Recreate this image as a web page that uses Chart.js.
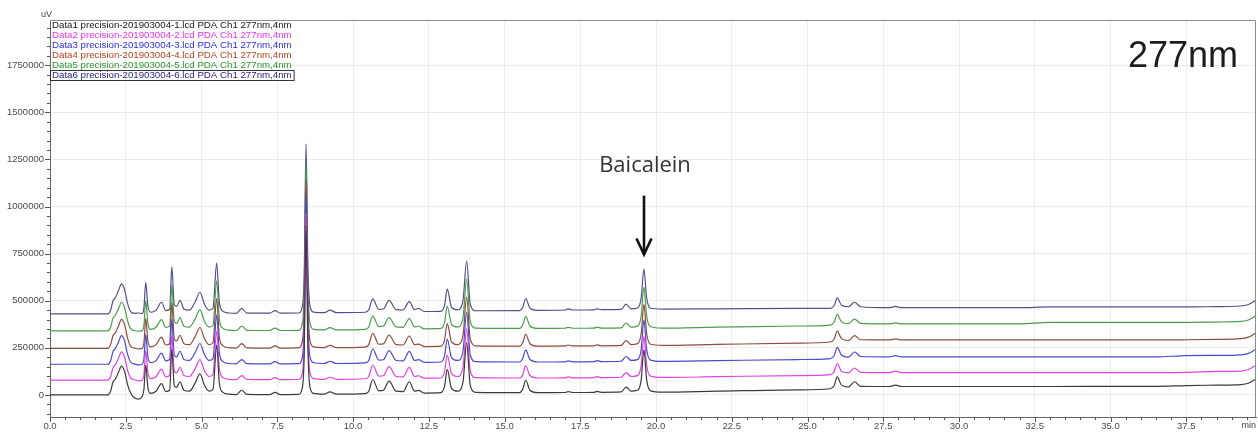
<!DOCTYPE html>
<html>
<head>
<meta charset="utf-8">
<script src="https://cdn.jsdelivr.net/npm/chart.js@4.4.1/dist/chart.umd.min.js"></script>
<style>
  html, body { margin: 0; padding: 0; background: #ffffff; }
  #wrap { width: 1258px; height: 437px; position: relative; }
</style>
</head>
<body>
<div id="wrap"><canvas id="chrom" width="1258" height="437"></canvas></div>
<script>
// Retention time (min) of every sampled point, shared by all six runs
const retentionTime = [
  0, 1.90, 2.00, 2.08, 2.16, 2.26, 2.36, 2.46, 2.56, 2.66,
  2.78, 2.92, 3.04, 3.10, 3.16, 3.23, 3.32, 3.50, 3.68, 3.82,
  3.95, 4.02, 4.10, 4.18, 4.29, 4.42, 4.60, 4.78, 4.95, 5.10,
  5.25, 5.38, 5.50, 5.59, 5.70, 5.90, 6.15, 6.33, 6.50, 7.25,
  7.43, 7.60, 8.20, 8.33, 8.39, 8.45, 8.51, 8.58, 8.70, 9.05,
  9.24, 9.45, 10.40, 10.52, 10.65, 10.85, 11.00, 11.19, 11.42, 11.65,
  11.86, 12.03, 12.16, 12.35, 12.90, 13.02, 13.11, 13.25, 13.45, 13.63,
  13.75, 13.87, 14.05, 15.50, 15.60, 15.70, 15.84, 16.10, 17.00, 17.10,
  17.25, 17.95, 18.05, 18.20, 18.85, 19.01, 19.18, 19.40, 19.51, 19.60,
  19.69, 19.82, 20.20, 22.00, 24.70, 25.75, 25.88, 25.98, 26.12, 26.35,
  26.55, 26.75, 27.70, 27.90, 28.10, 30.00, 32.00, 33.00, 36.50, 37.50,
  38.50, 39.30, 39.55, 39.80
];

// Detector signal (uV) of each replicate injection
const data1 = [
  0, 0, 20000, 70000, 85000, 120000, 153000, 125000, 55000, 10000,
  -15000, -22000, -8000, 30000, 160000, 40000, 8000, 20000, 60000, 18000,
  25000, 245000, 50000, 40000, 70000, 25000, 20000, 60000, 112000, 50000,
  20000, 30000, 265000, 60000, 15000, 4000, 2000, 25000, 3000, 2000,
  14000, 2000, 3000, 40000, 220000, 900000, 260000, 40000, 8000, 4000,
  16000, 4000, 7000, 20000, 82000, 22000, 24000, 73000, 20000, 18000,
  70000, 20000, 24000, 10000, 12000, 45000, 136000, 35000, 20000, 70000,
  278000, 50000, 14000, 12000, 30000, 78000, 25000, 12000, 13000, 18000,
  13000, 14000, 19000, 14000, 16000, 42000, 20000, 26000, 80000, 240000,
  80000, 22000, 15000, 20000, 27000, 33000, 50000, 96000, 52000, 42000,
  70000, 46000, 45000, 52000, 45000, 45000, 45000, 45000, 46000, 50000,
  52000, 55000, 62000, 85000
];
const data2 = [
  0, 0, 18000, 66000, 82000, 116000, 150000, 122000, 52000, 12000,
  2000, -4000, 0, 28000, 155000, 38000, 8000, 18000, 58000, 17000,
  24000, 238000, 48000, 38000, 68000, 24000, 19000, 58000, 108000, 48000,
  19000, 29000, 258000, 58000, 14000, 4000, 2000, 24000, 3000, 2000,
  13000, 2000, 3000, 38000, 210000, 885000, 250000, 38000, 8000, 4000,
  15000, 4000, 7000, 19000, 80000, 21000, 23000, 71000, 19000, 17000,
  67000, 19000, 23000, 10000, 11000, 43000, 132000, 34000, 19000, 68000,
  272000, 48000, 13000, 11000, 29000, 75000, 24000, 11000, 12000, 17000,
  12000, 13000, 18000, 13000, 15000, 40000, 19000, 25000, 78000, 232000,
  78000, 21000, 14000, 18000, 24000, 29000, 45000, 88000, 47000, 38000,
  64000, 41000, 40000, 47000, 40000, 40000, 40000, 40000, 40000, 41000,
  46000, 48000, 56000, 78000
];
const data3 = [
  0, 0, 19000, 68000, 84000, 118000, 152000, 124000, 54000, 12000,
  2000, -3000, 0, 29000, 158000, 39000, 8000, 19000, 59000, 18000,
  25000, 242000, 49000, 39000, 69000, 25000, 20000, 59000, 110000, 49000,
  20000, 30000, 262000, 59000, 15000, 4000, 2000, 25000, 3000, 2000,
  14000, 2000, 3000, 39000, 215000, 895000, 255000, 39000, 8000, 4000,
  16000, 4000, 7000, 20000, 81000, 22000, 24000, 72000, 20000, 18000,
  68000, 20000, 24000, 10000, 12000, 44000, 134000, 35000, 20000, 69000,
  275000, 49000, 14000, 12000, 30000, 76000, 25000, 12000, 13000, 18000,
  13000, 14000, 19000, 14000, 16000, 41000, 20000, 26000, 79000, 236000,
  79000, 22000, 15000, 19000, 25000, 30000, 46000, 90000, 48000, 38000,
  65000, 41000, 39000, 46000, 39000, 39000, 39000, 39000, 39000, 46000,
  47000, 50000, 58000, 80000
];
const data4 = [
  0, 0, 20000, 69000, 84000, 119000, 154000, 126000, 55000, 12000,
  2000, -3000, 0, 30000, 159000, 40000, 8000, 20000, 60000, 18000,
  25000, 244000, 50000, 40000, 70000, 25000, 20000, 60000, 111000, 50000,
  20000, 30000, 264000, 60000, 15000, 4000, 2000, 25000, 3000, 2000,
  14000, 2000, 3000, 40000, 218000, 898000, 258000, 40000, 8000, 4000,
  16000, 4000, 7000, 20000, 80000, 22000, 24000, 71000, 20000, 18000,
  66000, 20000, 23000, 10000, 12000, 44000, 132000, 35000, 20000, 69000,
  272000, 49000, 14000, 12000, 30000, 75000, 25000, 12000, 13000, 18000,
  13000, 14000, 19000, 14000, 16000, 41000, 20000, 26000, 79000, 234000,
  79000, 22000, 16000, 21000, 28000, 34000, 50000, 92000, 52000, 42000,
  68000, 46000, 45000, 51000, 45000, 45000, 45000, 45000, 45000, 46000,
  48000, 52000, 60000, 82000
];
const data5 = [
  0, 0, 19000, 68000, 83000, 118000, 152000, 125000, 54000, 12000,
  2000, -2000, 0, 30000, 160000, 40000, 8000, 19000, 60000, 18000,
  25000, 246000, 50000, 40000, 70000, 25000, 20000, 60000, 112000, 50000,
  20000, 30000, 266000, 60000, 15000, 4000, 2000, 26000, 3000, 2000,
  15000, 2000, 3000, 41000, 220000, 900000, 260000, 41000, 8000, 5000,
  17000, 5000, 8000, 21000, 80000, 23000, 25000, 70000, 21000, 19000,
  65000, 21000, 26000, 11000, 13000, 44000, 130000, 35000, 21000, 70000,
  275000, 49000, 15000, 13000, 31000, 76000, 26000, 13000, 14000, 19000,
  14000, 15000, 20000, 15000, 16000, 42000, 20000, 26000, 80000, 232000,
  80000, 22000, 15000, 20000, 26000, 31000, 47000, 88000, 48000, 38000,
  62000, 40000, 37000, 43000, 37000, 37000, 37000, 45000, 45000, 45000,
  47000, 50000, 58000, 80000
];
const data6 = [
  0, 0, 20000, 70000, 87000, 124000, 160000, 130000, 56000, 12000,
  3000, 5000, 2000, 32000, 168000, 42000, 9000, 20000, 62000, 18000,
  25000, 250000, 50000, 40000, 72000, 26000, 20000, 61000, 115000, 50000,
  20000, 30000, 270000, 61000, 15000, 5000, 3000, 30000, 4000, 4000,
  18000, 4000, 5000, 42000, 222000, 903000, 262000, 42000, 10000, 7000,
  20000, 7000, 9000, 22000, 80000, 24000, 26000, 72000, 23000, 21000,
  65000, 23000, 30000, 13000, 14000, 45000, 132000, 36000, 22000, 72000,
  280000, 50000, 17000, 18000, 34000, 82000, 30000, 19000, 21000, 27000,
  21000, 22000, 27000, 23000, 24000, 52000, 27000, 33000, 85000, 238000,
  85000, 30000, 26000, 27000, 29000, 30000, 45000, 85000, 46000, 38000,
  62000, 38000, 33000, 40000, 33000, 33000, 33000, 37000, 37000, 37000,
  39000, 42000, 50000, 72000
];

// Vertical shift applied to each run in the overlay view (uV)
const overlayOffset = [0, 79000, 163000, 247000, 340000, 430000];

const runNames = [
  'Data1 precision-201903004-1.lcd PDA Ch1 277nm,4nm',
  'Data2 precision-201903004-2.lcd PDA Ch1 277nm,4nm',
  'Data3 precision-201903004-3.lcd PDA Ch1 277nm,4nm',
  'Data4 precision-201903004-4.lcd PDA Ch1 277nm,4nm',
  'Data5 precision-201903004-5.lcd PDA Ch1 277nm,4nm',
  'Data6 precision-201903004-6.lcd PDA Ch1 277nm,4nm'
];
const runSignals = [data1, data2, data3, data4, data5, data6];
const traceColors = ['#3a3a3a', '#e044e0', '#4a4ad0', '#8e4c3c', '#4c9c4c', '#50508c'];
const legendColors = ['#151515', '#ee33ee', '#2e2ed8', '#b4441c', '#2c962c', '#26268a'];

// Axis settings
const timeMax = 39.8;
const timeMinorStep = 0.5;
const timeMajorStep = 2.5;
const signalMin = -117000;
const signalMax = 1990000;
const signalMinorStep = 50000;
const signalMajorStep = 250000;
const signalTickFirst = -100000;
const signalTickLast = 1950000;

const peakLabel = { text: 'Baicalein', time: 19.6, textValue: 1182000, arrowTop: 1058000, arrowTip: 740000 };
const wavelengthLabel = '277nm';

const isMajor = (v, step) => Math.abs(v / step - Math.round(v / step)) < 1e-6;
const axisFont = { family: '"Liberation Sans", Arial, sans-serif', size: 9.5 };

const datasets = runSignals.map((sig, i) => ({
  label: runNames[i],
  data: retentionTime.map((t, j) => ({ x: t, y: sig[j] + overlayOffset[i] })),
  borderColor: traceColors[i],
  borderWidth: 1.2,
  pointRadius: 0,
  fill: false,
  cubicInterpolationMode: 'monotone'
}));

// Frame, minor/major tick marks, legend and text labels
const chromDecor = {
  id: 'chromDecor',
  afterDraw(chart) {
    const { ctx, chartArea: a, scales: { x, y } } = chart;
    ctx.save();

    // plot frame (top and right edges)
    ctx.strokeStyle = '#8c8c8c';
    ctx.lineWidth = 1;
    ctx.beginPath();
    ctx.moveTo(a.left, a.top + 0.5);
    ctx.lineTo(a.right - 0.5, a.top + 0.5);
    ctx.lineTo(a.right - 0.5, a.bottom);
    ctx.stroke();

    // tick marks
    ctx.strokeStyle = '#555';
    ctx.beginPath();
    x.ticks.forEach(t => {
      const px = Math.round(x.getPixelForValue(t.value)) + 0.5;
      const len = isMajor(t.value, timeMajorStep) ? 5 : 3;
      ctx.moveTo(px, a.bottom);
      ctx.lineTo(px, a.bottom + len);
    });
    y.ticks.forEach(t => {
      const py = Math.round(y.getPixelForValue(t.value)) + 0.5;
      const len = isMajor(t.value, signalMajorStep) ? 5 : 3;
      ctx.moveTo(a.left - len, py);
      ctx.lineTo(a.left, py);
    });
    ctx.stroke();

    // axis units
    ctx.fillStyle = '#444';
    ctx.font = '9px "Liberation Sans", Arial, sans-serif';
    ctx.textBaseline = 'middle';
    ctx.textAlign = 'left';
    ctx.fillText('uV', a.left - 9, a.top - 5);
    ctx.textAlign = 'right';
    ctx.fillText('min', a.right, a.bottom + 9);

    // legend of the overlaid runs
    ctx.font = '9.7px "Liberation Sans", Arial, sans-serif';
    ctx.textAlign = 'left';
    runNames.forEach((name, i) => {
      ctx.fillStyle = legendColors[i];
      ctx.fillText(name, a.left + 2, a.top + 5.5 + i * 10);
    });
    const w = ctx.measureText(runNames[5]).width;
    ctx.strokeStyle = '#333';
    ctx.strokeRect(a.left + 0.5, a.top + 50.5, w + 4, 10);

    // detection wavelength
    ctx.fillStyle = '#1c1c1c';
    ctx.font = '36px "Liberation Sans", Arial, sans-serif';
    ctx.textAlign = 'right';
    ctx.textBaseline = 'alphabetic';
    ctx.fillText(wavelengthLabel, a.right - 18, a.top + 47);

    // peak annotation with arrow
    const ax = Math.round(x.getPixelForValue(peakLabel.time));
    ctx.fillStyle = '#333';
    ctx.font = '22px "Open Sans", "DejaVu Sans", sans-serif';
    ctx.textAlign = 'center';
    ctx.fillText(peakLabel.text, ax + 1, y.getPixelForValue(peakLabel.textValue));
    const yTop = y.getPixelForValue(peakLabel.arrowTop);
    const yTip = y.getPixelForValue(peakLabel.arrowTip);
    ctx.strokeStyle = '#111';
    ctx.lineWidth = 2.6;
    ctx.lineCap = 'butt';
    ctx.beginPath();
    ctx.moveTo(ax, yTop);
    ctx.lineTo(ax, yTip - 1);
    ctx.stroke();
    ctx.lineJoin = 'miter';
    ctx.beginPath();
    ctx.moveTo(ax - 7.5, yTip - 17);
    ctx.lineTo(ax, yTip - 1);
    ctx.lineTo(ax + 7.5, yTip - 17);
    ctx.stroke();

    ctx.restore();
  }
};

new Chart(document.getElementById('chrom'), {
  type: 'line',
  data: { datasets },
  options: {
    responsive: false,
    animation: false,
    devicePixelRatio: 1,
    layout: { padding: { top: 20, right: 2, left: 0, bottom: 0 } },
    plugins: { legend: { display: false }, tooltip: { enabled: false } },
    scales: {
      x: {
        type: 'linear',
        min: 0,
        max: timeMax,
        border: { color: '#666', width: 1 },
        grid: {
          drawTicks: false,
          color: c => (c.tick && isMajor(c.tick.value, timeMajorStep) && c.tick.value > 0) ? 'rgba(0,0,0,0.07)' : 'rgba(0,0,0,0)'
        },
        ticks: {
          autoSkip: false,
          maxRotation: 0,
          padding: 4,
          color: '#4a4a4a',
          font: axisFont,
          callback: v => isMajor(v, timeMajorStep) ? v.toFixed(1) : ''
        },
        afterBuildTicks(scale) {
          const ticks = [];
          for (let k = 0; k * timeMinorStep <= timeMax; k++) ticks.push({ value: +(k * timeMinorStep).toFixed(2) });
          scale.ticks = ticks;
        },
        afterFit(scale) { scale.height = 20; }
      },
      y: {
        type: 'linear',
        min: signalMin,
        max: signalMax,
        border: { color: '#666', width: 1 },
        grid: {
          drawTicks: false,
          color: c => (c.tick && isMajor(c.tick.value, signalMajorStep)) ? 'rgba(0,0,0,0.07)' : 'rgba(0,0,0,0)'
        },
        ticks: {
          autoSkip: false,
          padding: 6,
          color: '#4a4a4a',
          font: axisFont,
          callback: v => isMajor(v, signalMajorStep) ? String(v) : ''
        },
        afterBuildTicks(scale) {
          const ticks = [];
          for (let v = signalTickFirst; v <= signalTickLast; v += signalMinorStep) ticks.push({ value: v });
          scale.ticks = ticks;
        },
        afterFit(scale) { scale.width = 50; }
      }
    }
  },
  plugins: [chromDecor]
});
</script>
</body>
</html>
